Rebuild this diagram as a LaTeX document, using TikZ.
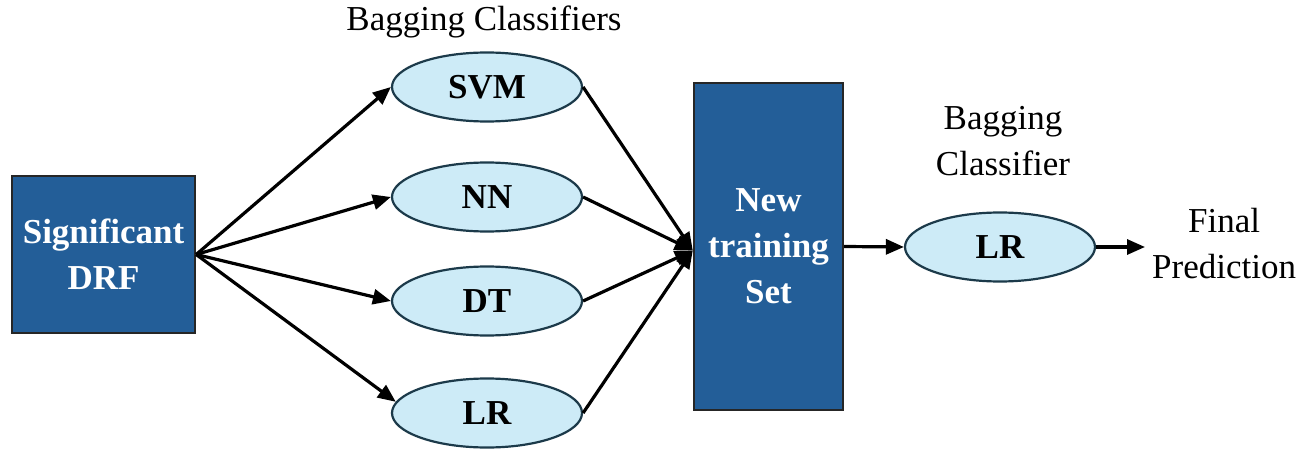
\documentclass[tikz,border=0pt]{standalone}
\usepackage{fontspec}
\setmainfont{Liberation Serif}
\usetikzlibrary{shapes.geometric,arrows.meta}
\definecolor{boxblue}{HTML}{235E98}
\definecolor{ellfill}{HTML}{CDEBF7}
\definecolor{ellline}{HTML}{1C3A4A}
\tikzset{
  darkbox/.style={draw=black!85, line width=2.4pt, fill=boxblue, text=white,
    font=\fontsize{35}{46}\selectfont\bfseries, align=center, inner sep=0pt},
  model/.style={ellipse, draw=ellline, line width=2.2pt, fill=ellfill,
    minimum width=190pt, minimum height=69pt, inner sep=0pt,
    font=\fontsize{35}{46}\selectfont\bfseries},
  label/.style={font=\fontsize{35}{46}\selectfont, align=center, inner sep=0pt},
  flow/.style={line width=3.2pt, -{Triangle[length=18pt,width=15pt]}},
}
\begin{document}
\begin{tikzpicture}[x=1pt,y=-1pt]
  \useasboundingbox (0,0) rectangle (1314,457);

  % input block
  \node[darkbox, minimum width=183pt, minimum height=157pt] (drf) at (103.5,254.5) {Significant\\DRF};

  % base learners
  \node[label] (bc) at (484,22) {Bagging Classifiers};
  \node[model] (svm) at (487,87) {SVM};
  \node[model] (nn)  at (487,197) {NN};
  \node[model] (dt)  at (487,301) {DT};
  \node[model] (lr)  at (487,413) {LR};

  % stacked training set
  \node[darkbox, minimum width=149pt, minimum height=327pt] (nts) at (768.5,246.5) {New\\training\\Set};
  \coordinate (join) at ([yshift=-4pt]nts.west);

  % meta learner
  \node[label] (bc2) at (1003,141) {Bagging\\Classifier};
  \node[model] (meta) at (1000,247) {LR};
  \coordinate (out) at (1145,247);
  \node[label, anchor=west] (fp) at (1152,244) {Final\\Prediction};

  % connectors
  \draw[flow] (drf.east) -- (svm.west);
  \draw[flow] (drf.east) -- (nn.west);
  \draw[flow] (drf.east) -- (dt.west);
  \draw[flow] (drf.east) -- (lr.173);
  \draw[flow] (svm.east) -- (join);
  \draw[flow] (nn.east) -- (join);
  \draw[flow] (dt.east) -- (join);
  \draw[flow] (lr.east) -- (join);
  \draw[flow] (nts.east) -- (meta.west);
  \draw[flow] (meta.east) -- (out);
\end{tikzpicture}
\end{document}
